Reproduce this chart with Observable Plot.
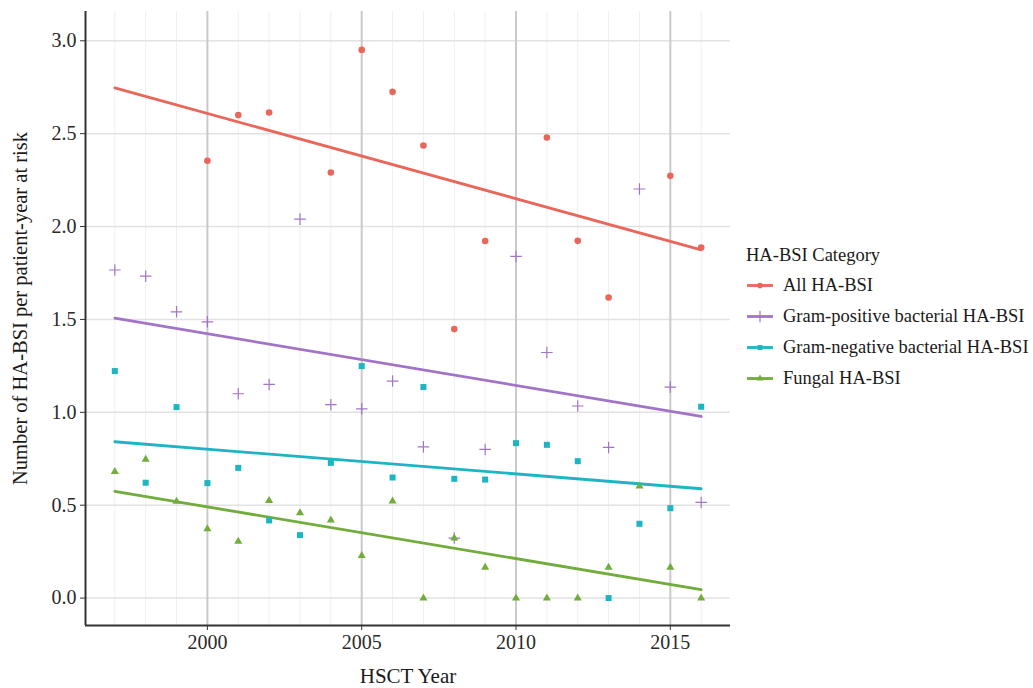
<!DOCTYPE html>
<html>
<head>
<meta charset="utf-8">
<script src="https://cdn.jsdelivr.net/npm/d3@7"></script>
<script src="https://cdn.jsdelivr.net/npm/@observablehq/plot@0.6"></script>
<style>
  body { margin: 0; background: #fff; }
  #wrap { position: relative; width: 1033px; height: 688px; font-family: "Liberation Serif", "DejaVu Serif", serif; }
  #wrap svg text { font-family: "Liberation Serif", "DejaVu Serif", serif; }
  #legend { position: absolute; left: 746px; top: 240px; color: #1a1a1a; font-size: 18.5px; }
  #legend .title { height: 30px; line-height: 30px; }
  #legend .row { height: 31px; line-height: 31px; display: flex; align-items: center; white-space: nowrap; }
  #legend svg { margin-right: 9px; }
</style>
</head>
<body>
<div id="wrap"></div>
<script>
// ---------- data ----------
const years = [1997, 1998, 1999, 2000, 2001, 2002, 2003, 2004, 2005, 2006,
               2007, 2008, 2009, 2010, 2011, 2012, 2013, 2014, 2015, 2016];
const allBSI =      [null, null, null, 2.354, 2.600, 2.614, null, 2.291, 2.951, 2.725,
                     2.436, 1.448, 1.922, null, 2.479, 1.923, 1.618, null, 2.273, 1.887];
const gramPositive = [1.766, 1.733, 1.541, 1.487, 1.100, 1.150, 2.040, 1.041, 1.019, 1.168,
                      0.814, 0.323, 0.800, 1.839, 1.322, 1.034, 0.811, 2.202, 1.136, 0.515];
const gramNegative = [1.222, 0.621, 1.028, 0.619, 0.701, 0.418, 0.339, 0.728, 1.249, 0.649,
                      1.136, 0.642, 0.638, 0.834, 0.825, 0.737, 0.000, 0.400, 0.484, 1.030];
const fungal =       [0.680, 0.746, 0.520, 0.373, 0.305, 0.525, 0.458, 0.420, 0.229, 0.522,
                      0.000, 0.323, 0.165, 0.000, 0.000, 0.000, 0.165, 0.603, 0.165, 0.000];
const seriesNames = ["All HA-BSI", "Gram-positive bacterial HA-BSI", "Gram-negative bacterial HA-BSI", "Fungal HA-BSI"];
const xTicks = [2000, 2005, 2010, 2015];
const yTicks = [0, 0.5, 1, 1.5, 2, 2.5, 3];
const legendTitle = "HA-BSI Category";
const xLabel = "HSCT Year";
const yLabel = "Number of HA-BSI per patient-year at risk";

// ---------- styles ----------
const colors = ["#EA655A", "#A274C8", "#1DB5C4", "#72AC3B"];
const symbols = ["circle", "plus", "square", "triangle"];
const values = [allBSI, gramPositive, gramNegative, fungal];
const serif = "'Liberation Serif', 'DejaVu Serif', serif";

// ---------- helpers ----------
function points(vals) {
  return years.map((x, i) => ({x, y: vals[i]})).filter(d => d.y != null);
}
function fitLine(vals) {
  const pts = points(vals);
  const mx = d3.mean(pts, d => d.x), my = d3.mean(pts, d => d.y);
  const b = d3.sum(pts, d => (d.x - mx) * (d.y - my)) / d3.sum(pts, d => (d.x - mx) ** 2);
  const a = my - b * mx;
  const [x0, x1] = d3.extent(years);
  return [{x: x0, y: a + b * x0}, {x: x1, y: a + b * x1}];
}

const xExt = d3.extent(years);
const xPad = (xExt[1] - xExt[0]) * 0.05;
const xDomain = [xExt[0] - xPad, xExt[1] + xPad];
const yMax = d3.max(values.flat().filter(v => v != null));
const yDomain = [-0.05 * yMax, 1.07 * yMax];
const minorYears = years.filter(y => !xTicks.includes(y));

const dotMarks = values.map((vals, i) => {
  const sym = symbols[i];
  if (sym === "plus") {
    return Plot.dot(points(vals), {x: "x", y: "y", symbol: "plus", stroke: colors[i], fill: "none", r: 3.8, strokeWidth: 1.2});
  }
  const r = sym === "circle" ? 3.3 : sym === "square" ? 3.4 : 3.0;
  return Plot.dot(points(vals), {x: "x", y: "y", symbol: sym, fill: colors[i], stroke: "none", r});
});
const lineMarks = values.map((vals, i) =>
  Plot.line(fitLine(vals), {x: "x", y: "y", stroke: colors[i], strokeWidth: 2.8}));

const chart = Plot.plot({
  width: 1033,
  height: 688,
  marginLeft: 85,
  marginRight: 303,
  marginTop: 11,
  marginBottom: 63,
  style: {fontFamily: serif, fontSize: "20px", color: "#2a2a2a", background: "#fff"},
  x: {domain: xDomain},
  y: {domain: yDomain},
  marks: [
    Plot.ruleX(minorYears, {stroke: "#efefef", strokeWidth: 1}),
    Plot.ruleY(yTicks, {stroke: "#e2e2e2", strokeWidth: 1.5}),
    Plot.ruleX(xTicks, {stroke: "#cacaca", strokeWidth: 2}),
    ...lineMarks,
    ...dotMarks,
    Plot.ruleX([xDomain[0]], {stroke: "#333", strokeWidth: 2}),
    Plot.ruleY([yDomain[0]], {stroke: "#333", strokeWidth: 2}),
    Plot.axisY({ticks: yTicks, tickFormat: d3.format(".1f"), tickSize: 5, tickPadding: 4, label: null,
                fontSize: 20, fontFamily: serif, fontVariant: "normal", stroke: "#333", fill: "#2a2a2a"}),
    Plot.axisX({ticks: xTicks, tickFormat: d => String(d), tickSize: 5, tickPadding: 4, label: null,
                fontSize: 20, fontFamily: serif, fontVariant: "normal", stroke: "#333", fill: "#2a2a2a"}),
    Plot.text([yLabel], {frameAnchor: "left", dx: -65, dy: -10, rotate: -90, textAnchor: "middle", fontSize: 20.5, fontFamily: serif, fill: "#1a1a1a"}),
    Plot.text([xLabel], {frameAnchor: "bottom", dy: 57, textAnchor: "middle", fontSize: 21, fontFamily: serif, fill: "#1a1a1a"})
  ]
});

const wrap = document.getElementById("wrap");
wrap.appendChild(chart);

// ---------- legend ----------
const legend = document.createElement("div");
legend.id = "legend";
const t = document.createElement("div");
t.className = "title";
t.textContent = legendTitle;
legend.appendChild(t);
const symType = {circle: d3.symbolCircle, plus: d3.symbolPlus, square: d3.symbolSquare, triangle: d3.symbolTriangle};
seriesNames.forEach((name, i) => {
  const row = document.createElement("div");
  row.className = "row";
  const svg = d3.create("svg").attr("width", 28).attr("height", 31);
  svg.append("line").attr("x1", 1).attr("x2", 27).attr("y1", 15.5).attr("y2", 15.5)
    .attr("stroke", colors[i]).attr("stroke-width", 2.8);
  const sym = symbols[i];
  const size = sym === "plus" ? 45 : sym === "triangle" ? 22 : 25;
  const p = svg.append("path").attr("transform", "translate(14,15.5)")
    .attr("d", d3.symbol(symType[sym], size)());
  if (sym === "plus") p.attr("fill", "none").attr("stroke", colors[i]).attr("stroke-width", 1.2);
  else p.attr("fill", colors[i]);
  row.appendChild(svg.node());
  const span = document.createElement("span");
  span.textContent = name;
  row.appendChild(span);
  legend.appendChild(row);
});
wrap.appendChild(legend);
</script>
</body>
</html>
